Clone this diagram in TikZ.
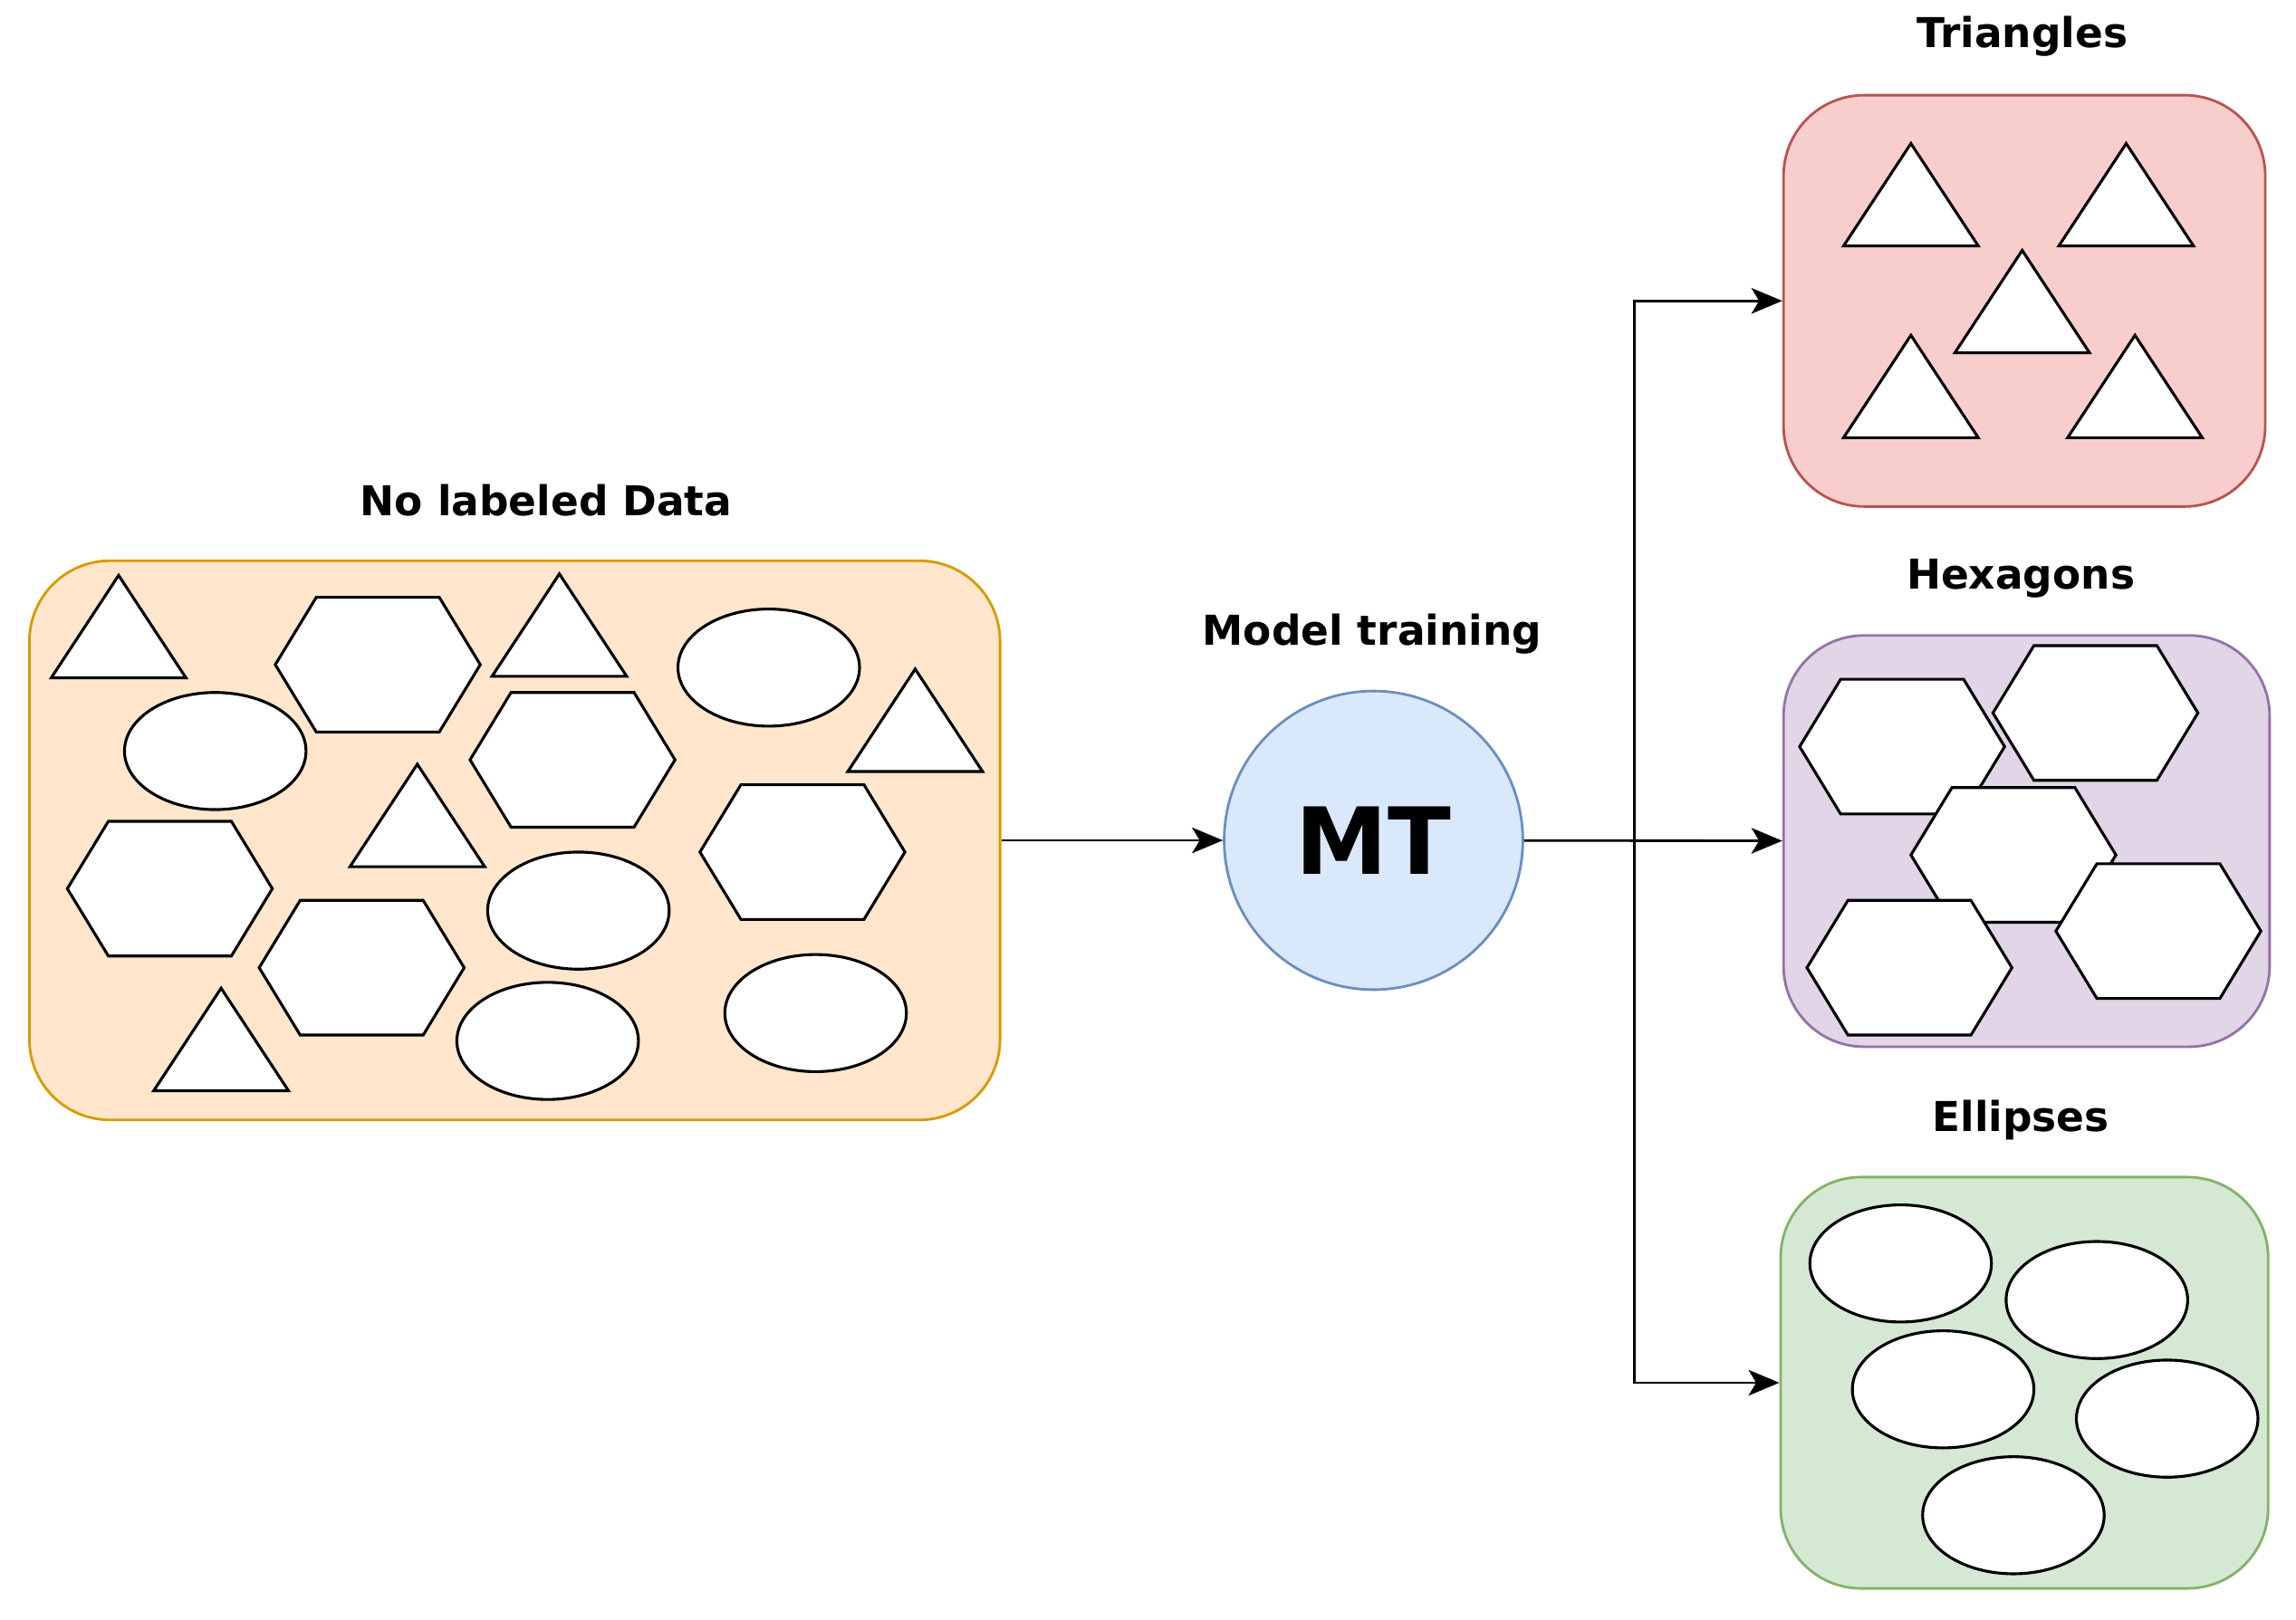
\documentclass[tikz,border=0pt]{standalone}
\usepackage{fontspec}
\setmainfont{DejaVu Sans}
\usetikzlibrary{positioning,arrows.meta}
\definecolor{orfill}{HTML}{FFE6CC}\definecolor{ordraw}{HTML}{D79B00}
\definecolor{rdfill}{HTML}{F8CECC}\definecolor{rddraw}{HTML}{B85450}
\definecolor{pufill}{HTML}{E1D5E7}\definecolor{pudraw}{HTML}{9673A6}
\definecolor{grfill}{HTML}{D5E8D4}\definecolor{grdraw}{HTML}{82B366}
\definecolor{blfill}{HTML}{DAE8FC}\definecolor{bldraw}{HTML}{6C8EBF}
\newcommand{\tri}[1]{\draw[item] (#1) ++(0,-35) -- ++(46,70) -- ++(-92,0) -- cycle;}
\newcommand{\hexa}[1]{\draw[item] (#1) ++(-70,0) -- ++(28,-46) -- ++(84,0) -- ++(28,46) -- ++(-28,46) -- ++(-84,0) -- cycle;}
\newcommand{\ellip}[1]{\draw[item] (#1) ellipse [x radius=1.24cm, y radius=0.8cm];}
\begin{document}
\begin{tikzpicture}[x=0.02cm,y=-0.02cm,
  box/.style={draw,rounded corners=1.1cm,line width=1pt,minimum height=5.62cm},
  item/.style={draw,fill=white,line width=1.1pt},
  lbl/.style={font=\fontsize{16}{20}\selectfont\bfseries},
  arr/.style={-{Stealth[length=12pt,width=10pt,inset=3pt]},line width=1pt}]
\useasboundingbox (0,0) rectangle (1568,1106);
\node[box,fill=orfill,draw=ordraw,minimum width=13.26cm,minimum height=7.64cm] (data) at (351.5,574) {};
\node[lbl] at (373,342) {No labeled Data};
\node[circle,draw=bldraw,fill=blfill,line width=1pt,minimum size=4.08cm,font=\fontsize{36}{44}\selectfont\bfseries] (mt) at (938,574) {MT};
\node[lbl] at (937,433) {Model training};
\node[box,fill=rdfill,draw=rddraw,minimum width=6.58cm] (tri) at (1382.5,205.5) {};
\node[lbl] at (1381,25) {Triangles};
\node[box,fill=pufill,draw=pudraw,minimum width=6.64cm] (hex) at (1384,574.5) {};
\node[lbl] at (1380,395) {Hexagons};
\node[box,fill=grfill,draw=grdraw,minimum width=6.66cm] (ell) at (1382.5,944.5) {};
\node[lbl] at (1380,765) {Ellipses};
\coordinate (split) at (1116,574);
% data set
\foreach \p in {{81,428},{382,427},{625,492},{285,557},{151,710}} {\tri{\p}}
\foreach \p in {{258,454},{391,519},{116,607},{548,582},{247,661}} {\hexa{\p}}
\foreach \p in {{525,456},{147,513},{395,622},{374,711},{557,692}} {\ellip{\p}}
% classes
\foreach \p in {{1305,133},{1452,133},{1381,206},{1305,264},{1458,264}} {\tri{\p}}
\foreach \p in {{1299,510},{1431,487},{1375,584},{1304,661},{1474,636}} {\hexa{\p}}
\foreach \p in {{1298,863},{1432,888},{1327,949},{1480,969},{1375,1035}} {\ellip{\p}}
% arrows
\draw[arr] (data) -- (mt);
\draw[arr] (mt) -- (hex);
\draw[arr] (split) |- (tri);
\draw[arr] (split) |- (ell);
\end{tikzpicture}
\end{document}
